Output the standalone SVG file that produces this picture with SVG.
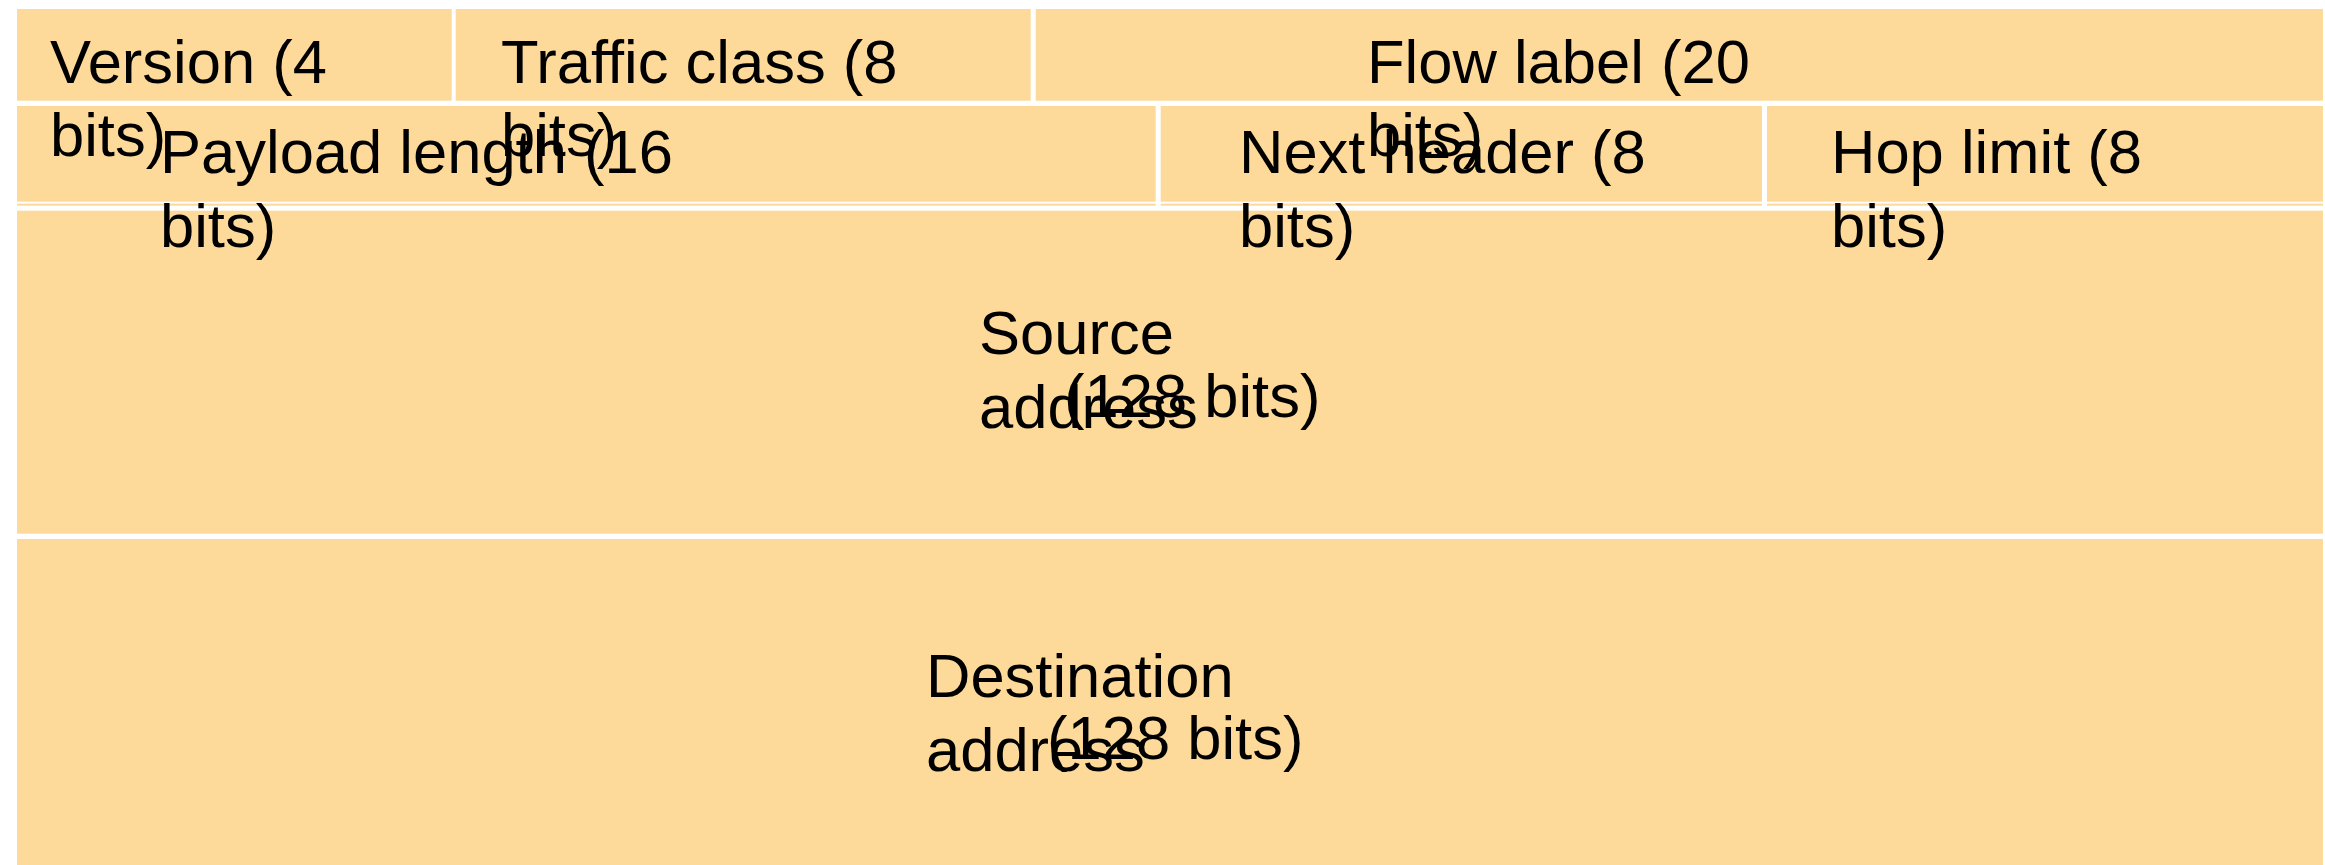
<svg xmlns="http://www.w3.org/2000/svg" width="2325" height="865" viewBox="0 0 2325 865">
<style>
.cell{fill:#FEDA9A;}
.band{fill:#FEDA9A;}
.lbl{font-family:"Liberation Sans",Arial,sans-serif;font-size:61.5px;fill:#000;}
</style>
<rect x="0" y="0" width="2325" height="865" fill="#FFFFFF"/>
<g id="destination-address">
<rect class="cell" x="17" y="539" width="2306" height="326"/>
<text class="lbl"><tspan x="926" y="696.7">Destination</tspan><tspan x="926" y="770.7">address</tspan></text>
<text class="lbl" x="1047" y="759.3">(128 bits)</text>
</g>
<g id="source-address">
<rect class="cell" x="17" y="210.7" width="2306" height="323"/>
<text class="lbl"><tspan x="979" y="354">Source</tspan><tspan x="979" y="428">address</tspan></text>
<text class="lbl" x="1064" y="417.3">(128 bits)</text>
</g>
<g id="row2-band">
<rect class="band" x="17" y="203.6" width="1138.7" height="2.1"/>
<rect class="band" x="1160.7" y="203.6" width="601.3" height="2.1"/>
<rect class="band" x="1767" y="203.6" width="556" height="2.1"/>
</g>
<g id="hop-limit">
<rect class="cell" x="1767" y="106" width="556" height="95.7"/>
<text class="lbl"><tspan x="1831" y="172.7">Hop limit (8</tspan><tspan x="1831" y="246.7">bits)</tspan></text>
</g>
<g id="next-header">
<rect class="cell" x="1160.7" y="106" width="601.3" height="95.7"/>
<text class="lbl"><tspan x="1239" y="172.7">Next header (8</tspan><tspan x="1239" y="246.7">bits)</tspan></text>
</g>
<g id="payload-length">
<rect class="cell" x="17" y="106" width="1138.7" height="95.7"/>
<text class="lbl"><tspan x="160" y="172.7">Payload length (16</tspan><tspan x="160" y="246.7">bits)</tspan></text>
</g>
<g id="flow-label">
<rect class="cell" x="1035.7" y="9" width="1287.3" height="91.7"/>
<text class="lbl"><tspan x="1367" y="82.7">Flow label (20</tspan><tspan x="1367" y="156">bits)</tspan></text>
</g>
<g id="traffic-class">
<rect class="cell" x="455.7" y="9" width="575" height="91.7"/>
<text class="lbl"><tspan x="501" y="82.7">Traffic class (8</tspan><tspan x="501" y="156">bits)</tspan></text>
</g>
<g id="version">
<rect class="cell" x="17" y="9" width="434.7" height="91.7"/>
<text class="lbl" x="50"><tspan x="50" y="82.7">Version (4</tspan><tspan x="50" y="156">bits)</tspan></text>
</g>
<g id="connectors"/>
</svg>
